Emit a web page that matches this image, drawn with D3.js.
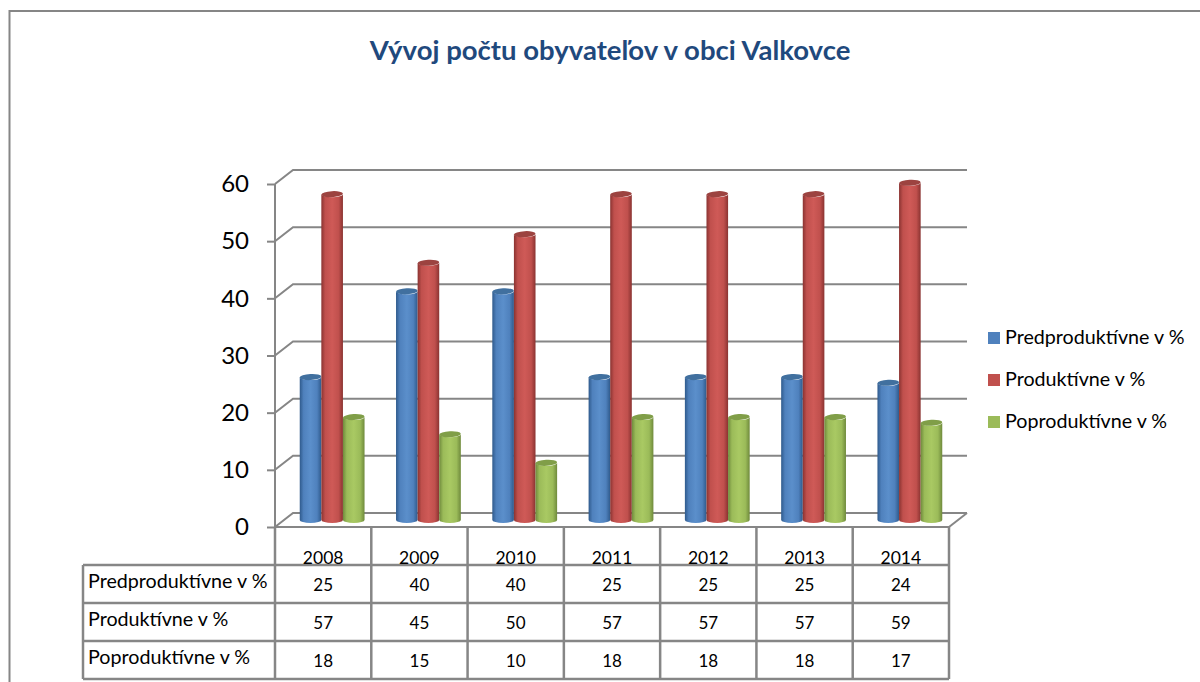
<!DOCTYPE html>
<meta charset="utf-8">
<style>
  html, body { margin: 0; background: #fff; }
  text { font-family: Lato, "Noto Sans", sans-serif; fill: #000; }
</style>
<script src="https://d3js.org/d3.v7.min.js"></script>
<div id="my_chart"></div>

<script>

// Data
var years = ["2008", "2009", "2010", "2011", "2012", "2013", "2014"];
var seriesNames = ["Predproduktívne v %", "Produktívne v %", "Poproduktívne v %"];
var predproduktivne = [25, 40, 40, 25, 25, 25, 24];
var produktivne = [57, 45, 50, 57, 57, 57, 59];
var poproduktivne = [18, 15, 10, 18, 18, 18, 17];
var yTicks = [0, 10, 20, 30, 40, 50, 60];
var seriesValues = [predproduktivne, produktivne, poproduktivne];

var colors = [
  {dark: "#2f5a8c", mid: "#4f81bd", light: "#5b8fcb", top: "#41709f"},
  {dark: "#8a3331", mid: "#c0504d", light: "#cf5a57", top: "#9c4340"},
  {dark: "#6f8a3c", mid: "#9bbb59", light: "#a9c963", top: "#809e48"}
];
var gridColor = "#868686";

var svg = d3.select("#my_chart")
  .append("svg")
    .attr("width", 1200)
    .attr("height", 682)
    .style("display", "block");

// Scales, front plane of the 3D box
var x = d3.scaleBand().domain(years).range([275, 949]);
var y = d3.scaleLinear().domain([0, 60]).range([527, 184]);

// depth of the 3D box, bars stand in the middle of it
var depthX = 18, depthY = 14;
var barW = 21.6;
var ry = 3;

// Gradients that make the cylinders
var defs = svg.append("defs");
colors.forEach(function(c, i) {
  var g = defs.append("linearGradient").attr("id", "cyl" + i);
  g.append("stop").attr("offset", "0%").attr("stop-color", c.dark);
  g.append("stop").attr("offset", "18%").attr("stop-color", c.mid);
  g.append("stop").attr("offset", "50%").attr("stop-color", c.light);
  g.append("stop").attr("offset", "80%").attr("stop-color", c.mid);
  g.append("stop").attr("offset", "100%").attr("stop-color", c.dark);
});

// Outer frame
svg.append("path")
  .attr("d", "M9.5,682V11H1200")
  .attr("fill", "none")
  .attr("stroke", gridColor)
  .attr("stroke-width", 2);

// Title
svg.append("text")
  .attr("x", 610)
  .attr("y", 60)
  .attr("text-anchor", "middle")
  .attr("font-size", "27.5px")
  .attr("font-weight", "bold")
  .style("fill", "#1f497d")
  .text("Vývoj počtu obyvateľov v obci Valkovce");

// Back wall grid and side wall diagonals
var grid = svg.append("g")
  .attr("fill", "none")
  .attr("stroke", gridColor)
  .attr("stroke-width", 2);

yTicks.forEach(function(t) {
  grid.append("path")
    .attr("d", d3.line()([
      [x.range()[0], y(t)],
      [x.range()[0] + depthX, y(t) - depthY],
      [x.range()[1] + depthX, y(t) - depthY]
    ]));
});
grid.append("path")
  .attr("d", d3.line()([
    [x.range()[1], y(0)],
    [x.range()[1] + depthX, y(0) - depthY]
  ]));

// Y axis
var yAxis = svg.append("g")
  .attr("transform", "translate(275,0)")
  .call(d3.axisLeft(y).tickValues(yTicks).tickSize(8).tickPadding(18));
yAxis.selectAll("path, line").attr("stroke", gridColor).attr("stroke-width", 2);
yAxis.select(".domain").attr("d", "M0," + y(60) + "V" + y(0));
yAxis.selectAll("text").attr("font-size", "24px").style("font-family", "Lato");

// Front floor edge
svg.append("line")
  .attr("x1", 275).attr("x2", 949)
  .attr("y1", y(0)).attr("y2", y(0))
  .attr("stroke", gridColor)
  .attr("stroke-width", 2);

// Cylinders
var xSeries = d3.scaleBand().domain(d3.range(3))
  .range([-barW * 1.5, barW * 1.5]);

function cylinder(cx, yTop, yBottom) {
  var r = barW / 2;
  return "M" + (cx - r) + "," + yTop +
    "V" + yBottom +
    "A" + r + "," + ry + " 0 0 0 " + (cx + r) + "," + yBottom +
    "V" + yTop +
    "A" + r + "," + ry + " 0 0 1 " + (cx - r) + "," + yTop + "Z";
}

years.forEach(function(year, yi) {
  var center = x(year) + x.bandwidth() / 2 + depthX / 2;
  seriesValues.forEach(function(values, si) {
    var cx = center + xSeries(si) + barW / 2;
    var top = y(values[yi]) - depthY / 2;
    var bottom = y(0) - depthY / 2;
    svg.append("path")
      .attr("d", cylinder(cx, top, bottom))
      .attr("fill", "url(#cyl" + si + ")");
    svg.append("ellipse")
      .attr("cx", cx)
      .attr("cy", top)
      .attr("rx", barW / 2)
      .attr("ry", ry)
      .attr("transform", "rotate(-3," + cx + "," + top + ")")
      .attr("fill", colors[si].top);
  });
});

// Data table
var rowY = d3.scaleBand().domain(seriesNames).range([565, 679]);
var table = svg.append("g")
  .attr("fill", "none")
  .attr("stroke", gridColor)
  .attr("stroke-width", 2.5);

x.domain().concat([null]).forEach(function(year) {
  var xPos = year === null ? x.range()[1] : x(year);
  table.append("line")
    .attr("x1", xPos).attr("x2", xPos)
    .attr("y1", y(0)).attr("y2", rowY.range()[1]);
});
table.append("line")
  .attr("x1", 83).attr("x2", 83)
  .attr("y1", rowY.range()[0]).attr("y2", rowY.range()[1]);
rowY.domain().concat([null]).forEach(function(name) {
  var yPos = name === null ? rowY.range()[1] : rowY(name);
  table.append("line")
    .attr("x1", 83).attr("x2", 949)
    .attr("y1", yPos).attr("y2", yPos);
});

// Year labels sit right on the first table line and get cut by it
svg.append("defs").append("clipPath").attr("id", "yearClip")
  .append("rect").attr("x", 275).attr("y", 530).attr("width", 674).attr("height", 34);
svg.append("g").attr("clip-path", "url(#yearClip)")
  .selectAll("text")
  .data(years)
  .enter()
  .append("text")
    .attr("x", function(d) { return x(d) + x.bandwidth() / 2; })
    .attr("y", 564)
    .attr("text-anchor", "middle")
    .attr("font-size", "17.5px")
    .text(function(d) { return d; });

seriesNames.forEach(function(name, si) {
  var rowMid = rowY(name) + rowY.bandwidth() / 2;
  svg.append("text")
    .attr("x", 88)
    .attr("y", rowMid + 4)
    .attr("font-size", "19.7px")
    .text(name);
  years.forEach(function(year, yi) {
    svg.append("text")
      .attr("x", x(year) + x.bandwidth() / 2)
      .attr("y", rowMid + 7)
      .attr("text-anchor", "middle")
      .attr("font-size", "17px")
      .text(seriesValues[si][yi]);
  });
});

// Legend
var legendY = d3.scalePoint().domain(seriesNames).range([338, 422]);
seriesNames.forEach(function(name, si) {
  svg.append("rect")
    .attr("x", 988)
    .attr("y", legendY(name) - 6)
    .attr("width", 12)
    .attr("height", 12)
    .attr("fill", colors[si].mid);
  svg.append("text")
    .attr("x", 1005)
    .attr("y", legendY(name) + 6)
    .attr("font-size", "19.7px")
    .text(name);
});

</script>
